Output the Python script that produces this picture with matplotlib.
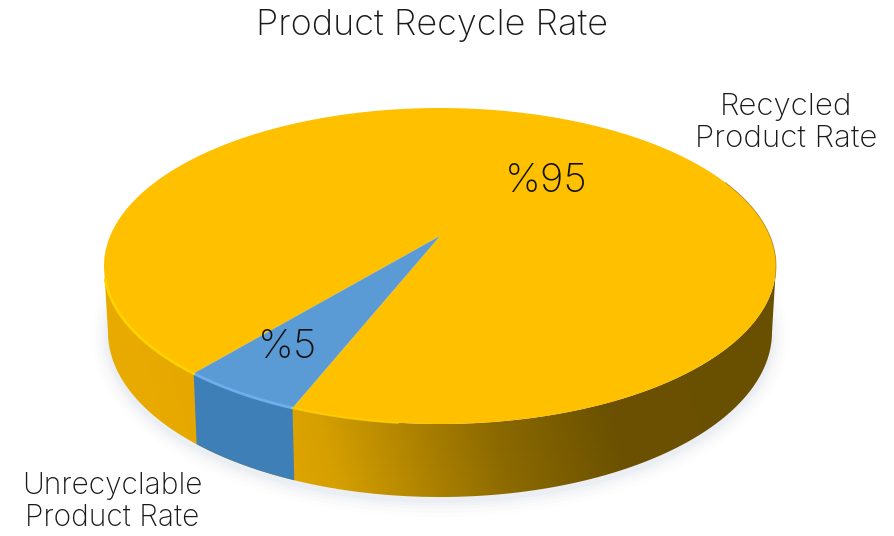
import numpy as np
import matplotlib
matplotlib.use("Agg")
import matplotlib.pyplot as plt
from matplotlib.colors import LinearSegmentedColormap
from matplotlib.patches import Polygon

title = "Product Recycle Rate"
categories = ["Unrecyclable\nProduct Rate", "Recycled\nProduct Rate"]
values = [5, 95]
value_labels = ["%5", "%95"]

# where the first slice starts, degrees clockwise from straight down
start_angle = 21.6

font = "Inter"

# top and bottom rim of the disc, in pixels
cx = 440
top_cy, top_a, top_b = 266, 336, 158
bot_cy, bot_a, bot_b = 332, 332, 165
apex_shift = -30 / 158


# perspective: slice centre sits above the middle of the ellipse
def rim_uv(deg, r=1.0):
    t = np.radians(deg)
    u = -np.sin(t) * r
    v = np.cos(t) * r
    d = 1 + v * apex_shift
    return u * np.sqrt(1 - apex_shift ** 2) / d, (v + apex_shift) / d


def top_xy(u, v):
    return cx + top_a * u, top_cy + top_b * v


def bot_xy(u, v):
    return cx + bot_a * u, bot_cy + bot_b * v


fig = plt.figure(figsize=(8.95, 5.36), dpi=100)
ax = fig.add_axes([0, 0, 1, 1])
ax.axis("off")

# soft shadow under the disc
for grow, alpha in zip([16, 12, 8, 5, 2], [0.012, 0.018, 0.025, 0.03, 0.04]):
    phi = np.linspace(0, 2 * np.pi, 200)
    ax.fill(cx + (bot_a + grow) * np.cos(phi), bot_cy + 4 + (bot_b + grow) * np.sin(phi),
            color="#6a7fa8", alpha=alpha, lw=0, zorder=1)

# side wall, shaded from left to right and a bit darker under the rim
phi = np.linspace(0, np.pi, 300)
side_x = np.r_[cx + top_a * np.cos(phi), (cx + bot_a * np.cos(phi))[::-1]]
side_y = np.r_[top_cy + top_b * np.sin(phi), (bot_cy + bot_b * np.sin(phi))[::-1]]
side = Polygon(np.c_[side_x, side_y], closed=True, transform=ax.transData, fc="none", ec="none")
ax.add_patch(side)
shade = LinearSegmentedColormap.from_list("side", [
    (0.0, "#eaab00"), (0.20, "#e4a700"), (0.30, "#d6a000"), (0.44, "#ad8200"),
    (0.56, "#8c6a00"), (0.74, "#6b5100"), (1.0, "#695000")])
gx, gy = np.meshgrid(np.linspace(0, 1, 256), np.linspace(0, 1, 256))
img = ax.imshow(np.clip(gx + 0.05 * (0.5 - gy) * 2, 0, 1), cmap=shade, aspect="auto",
                vmin=0, vmax=1, extent=(104, 776, 500, 260), zorder=2)
img.set_clip_path(side)

# top face and blue side, angles come from the values
face_colors = ["#5b9bd5", "#ffc000"]
wall_colors = ["#3f7fb8", None]
edges = start_angle + np.cumsum([0] + values) * 3.6
for i in [1, 0]:
    deg = np.linspace(edges[i], edges[i + 1], 300)
    u, v = rim_uv(deg)
    x, y = top_xy(u, v)
    u0, v0 = rim_uv(0, 0)
    ax0, ay0 = top_xy(u0, v0)
    ax.fill(np.r_[ax0, x], np.r_[ay0, y], color=face_colors[i], lw=0, zorder=4)
    if wall_colors[i]:
        bx, by = bot_xy(u, v)
        ax.fill(np.r_[x, bx[::-1]], np.r_[y, by[::-1]], color=wall_colors[i], lw=0, zorder=3)
        ax.plot(x, y, color="#6cb0ea", lw=2, zorder=5)

# bright bevel on the lit part of the rim, thin dark line on the far right
deg = np.linspace(edges[0] + 18, 74, 100)
x, y = top_xy(*rim_uv(deg))
ax.plot(x, y, color="#ffd200", lw=2, zorder=5)
deg = np.linspace(edges[0], 6, 60)
x, y = top_xy(*rim_uv(deg))
ax.plot(x, y, color="#ffd000", lw=1.5, alpha=0.8, zorder=5)
deg = np.linspace(-75, -112, 60)
x, y = top_xy(*rim_uv(deg))
ax.plot(x, y, color="#8a6c08", lw=0.6, alpha=0.7, zorder=5)

ax.set_xlim(0, 895)
ax.set_ylim(536, 0)

ax.text(432, 25, title, fontsize=26, family=font, fontweight="light", color="#1a1a1a",
        ha="center", va="center", zorder=6)
ax.text(288, 347, value_labels[0], fontsize=29, family=font, fontweight="light", color="#111111",
        ha="center", va="center", zorder=6)
ax.text(546, 182, value_labels[1], fontsize=29, family=font, fontweight="light", color="#111111",
        ha="center", va="center", zorder=6)
ax.text(112, 502, categories[0], fontsize=21.5, family=font, fontweight="light", color="#1a1a1a",
        ha="center", va="center", linespacing=1.18, zorder=6)
ax.text(786, 123, categories[1], fontsize=22.5, family=font, fontweight="light", color="#1a1a1a",
        ha="center", va="center", linespacing=1.18, zorder=6)

fig.savefig("out.png", dpi=100)
